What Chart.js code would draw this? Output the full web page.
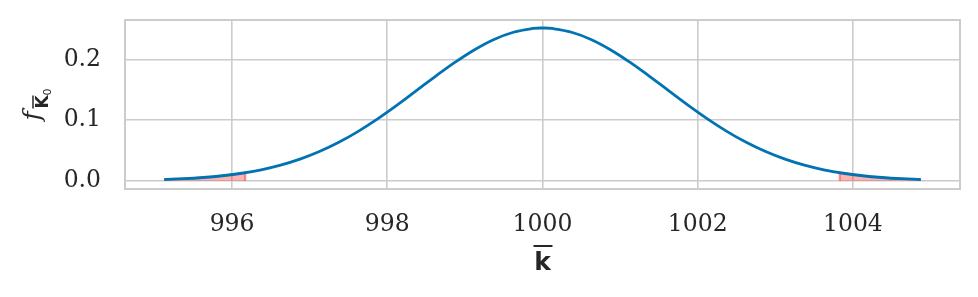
<!DOCTYPE html>
<html>
<head>
<meta charset="utf-8">
<script src="https://cdn.jsdelivr.net/npm/chart.js@4.4.1/dist/chart.umd.min.js"></script>
<style>
  html, body { margin: 0; padding: 0; background: #fff; }
  #wrap { width: 978px; height: 297px; }
</style>
</head>
<body>
<div id="wrap"><canvas id="pdfChart" width="978" height="297"></canvas></div>
<script>
// density curve
const kValues = [995.125, 995.375, 995.625, 995.875, 996.125, 996.375, 996.625, 996.875,
  997.125, 997.375, 997.625, 997.875, 998.125, 998.375, 998.625, 998.875, 999.125, 999.375,
  999.625, 999.875, 1000, 1000.125, 1000.375, 1000.625, 1000.875, 1001.125, 1001.375, 1001.625,
  1001.875, 1002.125, 1002.375, 1002.625, 1002.875, 1003.125, 1003.375, 1003.625, 1003.875,
  1004.125, 1004.375, 1004.625, 1004.875];
const density = [0.0022, 0.0035, 0.0055, 0.0084, 0.0125, 0.0182, 0.0259, 0.0358,
  0.0483, 0.0636, 0.0817, 0.1023, 0.1249, 0.1488, 0.1729, 0.1959, 0.2165, 0.2334,
  0.2453, 0.2515, 0.2523, 0.2515, 0.2453, 0.2334, 0.2165, 0.1959, 0.1729, 0.1488,
  0.1249, 0.1023, 0.0817, 0.0636, 0.0483, 0.0358, 0.0259, 0.0182, 0.0125,
  0.0084, 0.0055, 0.0035, 0.0022];

// shaded tails
const leftTailK = [995.125, 995.375, 995.625, 995.875, 996.125, 996.17, 996.17];
const leftTailY = [0.0022, 0.0035, 0.0055, 0.0084, 0.0125, 0.0134, 0];
const rightTailK = [1003.83, 1003.83, 1003.875, 1004.125, 1004.375, 1004.625, 1004.875];
const rightTailY = [0, 0.0134, 0.0125, 0.0084, 0.0055, 0.0035, 0.0022];

const xTicks = [996, 998, 1000, 1002, 1004];
const yTicks = [0.0, 0.1, 0.2];

const toPoints = (xs, ys) => xs.map((x, i) => ({ x: x, y: ys[i] }));

const gridColor = '#cccccc';
const textColor = '#262626';

// frame + axis labels
const decorations = {
  id: 'decorations',
  afterDraw(chart) {
    const c = chart.ctx;
    const a = chart.chartArea;
    c.save();
    c.strokeStyle = gridColor;
    c.lineWidth = 2;
    c.strokeRect(a.left, a.top, a.right - a.left, a.bottom - a.top);

    c.fillStyle = textColor;
    c.strokeStyle = textColor;

    // x label: k with overline
    const cx = (a.left + a.right) / 2;
    c.font = 'bold 25px "DejaVu Sans"';
    c.textAlign = 'center';
    c.textBaseline = 'alphabetic';
    c.fillText('k', cx, 270);
    c.lineWidth = 2;
    c.beginPath();
    c.moveTo(cx - 9, 246);
    c.lineTo(cx + 10, 246);
    c.stroke();

    // y label: f with subscript K-bar, sub 0
    c.translate(48, (a.top + a.bottom) / 2 + 16);
    c.rotate(-Math.PI / 2);
    c.textAlign = 'left';
    c.font = 'italic 25px "DejaVu Serif"';
    c.fillText('f', 0, -8);
    c.font = 'bold 17px "DejaVu Sans"';
    c.fillText('K', 12, 0);
    c.lineWidth = 1.5;
    c.beginPath();
    c.moveTo(12, -15);
    c.lineTo(25, -15);
    c.stroke();
    c.font = '11px "DejaVu Sans"';
    c.fillText('0', 25, 3);
    c.restore();
  }
};

new Chart(document.getElementById('pdfChart').getContext('2d'), {
  type: 'line',
  data: {
    datasets: [
      {
        data: toPoints(kValues, density),
        borderColor: '#0173b2',
        borderWidth: 2.8,
        pointRadius: 0,
        tension: 0.4,
        fill: false
      },
      {
        data: toPoints(leftTailK, leftTailY),
        borderColor: 'rgba(255,0,0,0.45)',
        backgroundColor: 'rgba(255,0,0,0.3)',
        borderWidth: 2,
        pointRadius: 0,
        tension: 0,
        fill: 'origin'
      },
      {
        data: toPoints(rightTailK, rightTailY),
        borderColor: 'rgba(255,0,0,0.45)',
        backgroundColor: 'rgba(255,0,0,0.3)',
        borderWidth: 2,
        pointRadius: 0,
        tension: 0,
        fill: 'origin'
      }
    ]
  },
  options: {
    responsive: false,
    animation: false,
    layout: { padding: { top: 20, right: 18, left: 0, bottom: 0 } },
    plugins: { legend: { display: false }, tooltip: { enabled: false } },
    scales: {
      x: {
        type: 'linear',
        min: 994.62,
        max: 1005.38,
        afterFit(scale) {
          scale.height = 108;
          scale.paddingLeft = 0;
          scale.paddingRight = 0;
        },
        afterBuildTicks(scale) { scale.ticks = xTicks.map(v => ({ value: v })); },
        grid: { color: gridColor, lineWidth: 1.6, drawTicks: false },
        border: { display: false },
        ticks: {
          padding: 22,
          color: textColor,
          font: { family: 'DejaVu Serif', size: 23.5 },
          callback: v => String(v)
        }
      },
      y: {
        type: 'linear',
        min: -0.0135,
        max: 0.2655,
        afterFit(scale) {
          scale.width = 125;
          scale.paddingTop = 0;
          scale.paddingBottom = 0;
        },
        afterBuildTicks(scale) { scale.ticks = yTicks.map(v => ({ value: v })); },
        grid: { color: gridColor, lineWidth: 1.6, drawTicks: false },
        border: { display: false },
        ticks: {
          padding: 24,
          color: textColor,
          font: { family: 'DejaVu Serif', size: 23.5 },
          callback: v => v.toFixed(1)
        }
      }
    }
  },
  plugins: [decorations]
});
</script>
</body>
</html>
